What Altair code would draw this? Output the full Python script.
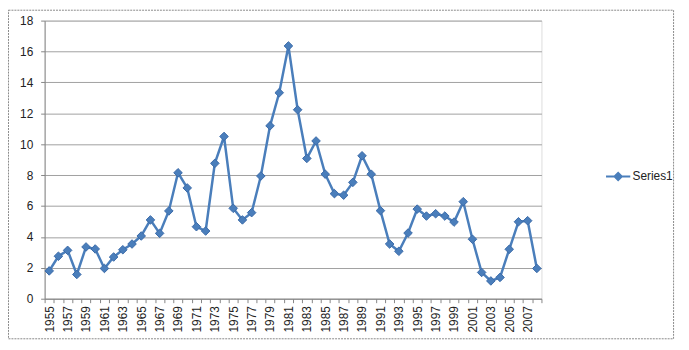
import altair as alt
import pandas as pd

years = list(range(1955, 2009))
values = [1.8, 2.75, 3.13, 1.57, 3.35, 3.22, 1.96, 2.7, 3.17, 3.54,
          4.06, 5.1, 4.23, 5.68, 8.15, 7.17, 4.66, 4.38, 8.76, 10.5,
          5.85, 5.1, 5.57, 7.94, 11.19, 13.33, 16.36, 12.23, 9.08, 10.21,
          8.06, 6.8, 6.7, 7.53, 9.25, 8.06, 5.7, 3.54, 3.07, 4.25,
          5.8, 5.35, 5.5, 5.35, 4.96, 6.28, 3.85, 1.7, 1.15, 1.38,
          3.2, 4.98, 5.05, 1.96]
series = ["Series1"] * len(years)
y_ticks = [0, 2, 4, 6, 8, 10, 12, 14, 16, 18]

df = pd.DataFrame({"year": years, "value": values, "series": series})

FONT = "Liberation Sans"
BLUE = "#4A7EBB"

x_enc = alt.X("year:O", bandPosition=0.5,
              scale=alt.Scale(type="band", paddingInner=0, paddingOuter=0),
              axis=alt.Axis(title=None, labelAngle=-90, labelOverlap=False,
                            labelExpr="datum.value % 2 == 1 ? datum.label : ''",
                            tickBand="extent", tickSize=4, grid=False,
                            domainColor="#868686", tickColor="#868686",
                            labelFont=FONT, labelFontSize=12, labelColor="#222",
                            labelPadding=3))
y_enc = alt.Y("value:Q",
              scale=alt.Scale(domain=[0, 18], nice=False),
              axis=alt.Axis(title=None, values=y_ticks, tickSize=4,
                            gridColor="#a0a0a0", gridWidth=1,
                            domainColor="#868686", tickColor="#868686",
                            labelFont=FONT, labelFontSize=12, labelColor="#222",
                            labelPadding=8))

line = alt.Chart(df).mark_line(strokeWidth=2.5).encode(
    x=x_enc, y=y_enc,
    color=alt.Color("series:N", scale=alt.Scale(range=[BLUE]),
                    legend=alt.Legend(title=None, orient="none",
                                      legendX=566, legendY=144,
                                      symbolType="M-1,0H1M-0.3,0L0,-0.3L0.3,0L0,0.3Z",
                                      symbolSize=600, symbolStrokeWidth=2,
                                      symbolFillColor=BLUE,
                                      labelFont=FONT, labelFontSize=12,
                                      labelColor="#222", labelOffset=1))
)

points = alt.Chart(df).mark_point(shape="diamond", filled=True, size=75,
                                  color=BLUE, stroke="#3b6aa8", strokeWidth=1,
                                  opacity=1).encode(x=x_enc, y=y_enc)

border = alt.Chart(alt.Data(values=[{}])).mark_rect(
    fill=None, stroke="#8a8a8a", strokeWidth=1, strokeDash=[2, 1]
).encode(x=alt.value(-36.5), x2=alt.value(635.5), y=alt.value(-10.5), y2=alt.value(321.5))

chart = alt.layer(line, points, border).properties(
    width=502, height=281,
    autosize=alt.AutoSizeParams(type="none"),
    padding={"left": 37, "top": 11, "right": 141, "bottom": 42},
).configure_view(stroke=None).configure(background="white")

chart.save("out.html", embed_options={"renderer": "svg", "actions": False})
